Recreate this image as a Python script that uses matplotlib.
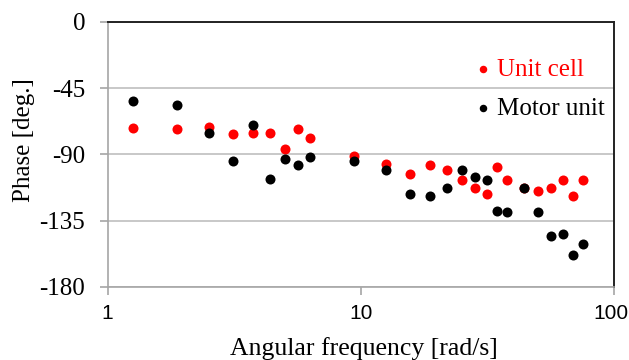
import numpy as np
import matplotlib
matplotlib.use("Agg")
import matplotlib.pyplot as plt
import matplotlib.transforms as mtransforms
from matplotlib.ticker import FixedLocator, NullLocator, FixedFormatter

plt.rcParams['font.family'] = ['Liberation Serif', 'DejaVu Serif']

freq = [1.257, 1.885, 2.513, 3.142, 3.770, 4.398, 5.027, 5.655, 6.283,
        9.425, 12.57, 15.71, 18.85, 21.99, 25.13, 28.27, 31.42, 34.56,
        37.70, 43.98, 50.27, 56.55, 62.83, 69.12, 75.40]
unit_cell = [-71.8, -72.7, -71.6, -76.1, -75.4, -75.2, -86.0, -72.5, -78.8,
             -91.2, -96.6, -103.2, -96.9, -100.7, -107.7, -113.1, -116.7, -98.7,
             -107.7, -113.1, -114.7, -113.1, -107.7, -118.5, -107.7]
motor_unit = [-53.7, -56.5, -75.2, -94.4, -69.8, -106.8, -93.3, -96.9, -91.4,
              -94.4, -100.5, -116.7, -118.5, -113.1, -100.5, -105.0, -107.7, -128.5,
              -129.2, -113.1, -129.2, -145.6, -143.8, -158.1, -150.8]
y_ticks = [0, -45, -90, -135, -180]
x_ticks = [1, 10, 100]
x_tick_labels = ['1', '10', '100']

fig = plt.figure(figsize=(6.29, 3.60), dpi=100)
ax = fig.add_axes([0.171, 0.203, 0.805, 0.736])

ax.scatter(freq, unit_cell, s=52, color='#FF0000', label='Unit cell', zorder=3, linewidths=0)
ax.scatter(freq, motor_unit, s=52, color='#000000', label='Motor unit', zorder=4, linewidths=0)

ax.set_xscale('log')
ax.set_xlim(1, 100)
ax.set_ylim(-180, 0)
ax.xaxis.set_major_locator(FixedLocator(x_ticks))
ax.xaxis.set_major_formatter(FixedFormatter(x_tick_labels))
ax.xaxis.set_minor_locator(NullLocator())
ax.set_yticks(y_ticks)
ax.set_yticklabels([str(v) for v in y_ticks])

ax.yaxis.grid(True, color='#BFBFBF', linewidth=1.2)
ax.set_axisbelow(True)

for side in ['left', 'bottom']:
    ax.spines[side].set_color('#A6A6A6')
    ax.spines[side].set_linewidth(1.2)
for side in ['top', 'right']:
    ax.spines[side].set_color('#222222')
    ax.spines[side].set_linewidth(1.4)

ax.tick_params(axis='both', which='major', color='#A6A6A6',
               length=6, width=1.2, direction='out')
ax.tick_params(axis='y', labelsize=18, pad=10)
ax.tick_params(axis='x', labelsize=15, pad=6)
for lab in ax.get_xticklabels():
    lab.set_fontfamily(['Liberation Sans', 'DejaVu Sans'])
# keep the last tick label inside the figure like the reference
last = ax.get_xticklabels()[-1]
last.set_transform(last.get_transform() +
                   mtransforms.ScaledTranslation(-2.5 / 100, 0, fig.dpi_scale_trans))

ax.set_xlabel('Angular frequency [rad/s]', fontsize=18.5)
ax.xaxis.set_label_coords(0.507, -0.19)
ax.set_ylabel('Phase [deg.]', fontsize=18)
ax.yaxis.set_label_coords(-0.143, 0.555)

leg = ax.legend(loc='upper right', bbox_to_anchor=(1.002, 0.9), frameon=False,
                fontsize=18, handlelength=0.8, handletextpad=0.15, labelspacing=0.65,
                markerscale=0.75, borderaxespad=0.0,
                labelcolor=['#FF0000', '#000000'])

fig.savefig('out.png', dpi=100)
